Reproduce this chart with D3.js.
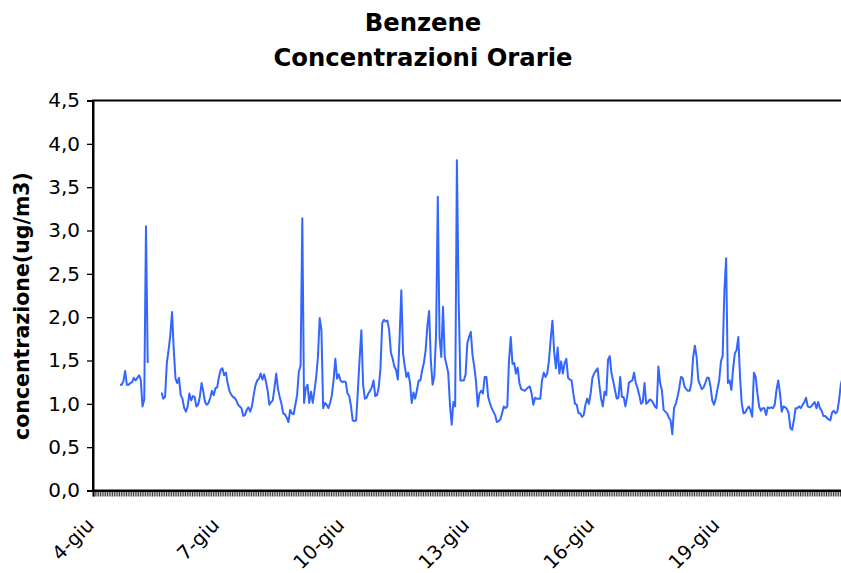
<!DOCTYPE html>
<html>
<head>
<meta charset="utf-8">
<script src="https://cdn.jsdelivr.net/npm/d3@7"></script>
<style>
  html, body { margin: 0; padding: 0; background: #fff; }
  svg { display: block; }
  text { font-family: "DejaVu Sans", Verdana, sans-serif; fill: #000; }
</style>
</head>
<body>
<svg id="chart" width="841" height="573"></svg>
<script>
// ---- Data: hourly benzene concentration (ug/m3), one array per day (00:00..23:00)
const giu04 = [null,null,null,null,null,null,null,null,null,null,null,null,null,null,null,1.22,1.22,1.26,1.38,1.22,1.22,1.24,1.25,1.30];
const giu05 = [1.27,1.30,1.33,1.28,0.97,1.05,3.05,1.47,null,null,null,null,null,null,null,1.13,1.06,1.08,1.47,1.62,1.79,2.06,1.62,1.29];
const giu06 = [1.24,1.30,1.10,1.06,0.95,0.91,0.97,1.12,1.04,1.09,1.08,0.97,0.99,1.08,1.24,1.14,1.02,0.99,1.01,1.07,1.15,1.10,1.18,1.19];
const giu07 = [1.31,1.39,1.41,1.33,1.36,1.24,1.15,1.11,1.08,1.07,1.04,0.99,0.97,0.95,0.86,0.87,0.93,0.96,0.91,0.97,1.10,1.21,1.27,1.29];
const giu08 = [1.35,1.28,1.34,1.26,1.16,0.99,1.02,1.04,1.19,1.35,1.17,1.08,1.00,0.89,0.88,0.84,0.79,0.93,0.89,0.88,0.99,1.10,1.37,1.44];
const giu09 = [3.14,1.01,1.18,1.22,1.01,1.14,1.01,1.15,1.31,1.54,1.99,1.85,0.95,1.01,0.99,0.95,1.01,1.10,1.27,1.52,1.29,1.34,1.27,1.25];
const giu10 = [1.26,1.25,1.12,1.09,0.98,0.81,0.80,0.81,1.16,1.52,1.85,1.22,1.06,1.07,1.12,1.15,1.19,1.27,1.09,1.10,1.19,1.41,1.93,1.97];
const giu11 = [1.95,1.96,1.85,1.59,1.52,1.43,1.39,1.28,1.76,2.31,1.58,1.43,1.31,1.36,1.24,1.01,1.13,1.06,1.16,1.27,1.27,1.39,1.47,1.62];
const giu12 = [1.90,2.07,1.50,1.22,1.32,1.80,3.39,1.77,1.54,2.12,1.54,1.45,1.36,0.99,0.76,1.02,0.97,3.81,2.20,1.27,1.27,1.27,1.34,1.70];
const giu13 = [1.77,1.83,1.56,1.43,1.26,0.97,1.12,1.15,1.12,1.31,1.31,1.08,1.01,0.95,0.91,0.87,0.79,0.80,0.82,0.89,0.97,0.95,0.97,1.50];
const giu14 = [1.77,1.46,1.47,1.35,1.42,1.24,1.17,1.16,1.15,1.17,1.19,1.20,1.12,0.99,1.07,1.06,1.06,1.06,1.27,1.36,1.31,1.35,1.50,1.75];
const giu15 = [1.96,1.60,1.41,1.65,1.35,1.49,1.35,1.47,1.52,1.30,1.28,1.27,1.12,1.00,0.99,0.89,0.89,0.85,0.87,0.99,1.06,1.00,1.12,1.30];
const giu16 = [1.35,1.38,1.41,1.22,1.06,0.97,1.14,1.10,1.51,1.55,1.35,1.26,1.16,1.06,1.07,1.31,1.08,1.08,0.97,1.08,1.24,1.26,1.27,1.36];
const giu17 = [1.24,1.18,1.10,1.00,1.02,1.24,1.00,1.02,1.05,1.04,1.01,0.97,0.95,1.43,1.24,1.16,0.93,0.91,0.89,0.84,0.81,0.65,0.95,1.00];
const giu18 = [1.08,1.18,1.31,1.30,1.20,1.17,1.15,1.15,1.24,1.54,1.67,1.54,1.27,1.22,1.17,1.19,1.24,1.30,1.30,1.20,1.04,0.99,1.06,1.17];
const giu19 = [1.27,1.49,1.55,2.31,2.68,1.24,1.27,1.16,1.40,1.58,1.62,1.77,1.31,1.00,0.89,0.90,0.94,0.97,0.93,0.85,1.36,1.31,1.12,0.97];
const giu20 = [0.92,0.95,0.95,0.87,0.96,0.95,0.96,0.95,0.99,1.16,1.27,1.12,0.91,0.97,0.96,0.94,0.89,0.72,0.70,0.81,0.95,0.95,0.97,0.95];
const giu21 = [0.99,1.02,1.07,0.97,0.96,0.97,1.00,1.02,0.95,1.02,0.95,0.92,0.86,0.86,0.84,0.82,0.81,0.90,0.92,0.89,0.91,1.04,1.22,1.30];

const days = [4,5,6,7,8,9,10,11,12,13,14,15,16,17,18,19,20,21];
const dayLabels = days.map(d => d + "-giu");
const shownLabels = ["4-giu","7-giu","10-giu","13-giu","16-giu","19-giu"];
const yTicks = [0,0.5,1,1.5,2,2.5,3,3.5,4,4.5];
const titleLines = ["Benzene","Concentrazioni Orarie"];
const yTitle = "concentrazione(ug/m3)";

const series = [giu04,giu05,giu06,giu07,giu08,giu09,giu10,giu11,giu12,giu13,giu14,giu15,giu16,giu17,giu18,giu19,giu20,giu21];
// categories: one per hour
const categories = [];
series.forEach((arr, di) => arr.forEach((v, h) => categories.push({label: dayLabels[di], hour: h, value: v})));

// ---- Layout
const svg = d3.select("#chart");
const plotLeft = 93, plotTop = 100.5, plotBottom = 490.5;
const step = 1.737;
const plotRight = plotLeft + categories.length * step;

const x = d3.scaleLinear().domain([0, categories.length]).range([plotLeft, plotRight]);
const y = d3.scaleLinear().domain([0, 4.5]).range([plotBottom, plotTop]);

// Title
svg.append("g").selectAll("text").data(titleLines).join("text")
  .attr("x", 423).attr("y", (d, i) => 31 + i * 35)
  .attr("text-anchor", "middle")
  .style("font-weight", "bold").style("font-size", "24.3px")
  .text(d => d);

// Y axis title
svg.append("text")
  .attr("transform", "translate(29,306) rotate(-90)")
  .attr("text-anchor", "middle")
  .style("font-weight", "bold").style("font-size", "20.5px")
  .text(yTitle);

// Plot frame
svg.append("rect")
  .attr("x", plotLeft).attr("y", plotTop)
  .attr("width", plotRight - plotLeft).attr("height", plotBottom - plotTop)
  .attr("fill", "none").attr("stroke", "#000").attr("stroke-width", 2);

// Y axis
const yAxis = d3.axisLeft(y).tickValues(yTicks).tickSize(6).tickPadding(7)
  .tickFormat(d => d3.format(".1f")(d).replace(".", ","));
const gy = svg.append("g").attr("transform", `translate(${plotLeft},0)`).call(yAxis);
gy.select(".domain").attr("stroke-width", 2);
gy.selectAll(".tick line").attr("stroke", "#000").attr("stroke-width", 1.3);
gy.selectAll(".tick text").style("font-size", "20px").style("font-family", '"DejaVu Sans", Verdana, sans-serif');

// X axis: a tick mark at every hour boundary, labels every 3 days
const xAxis = d3.axisBottom(x).tickValues(d3.range(0, categories.length + 1)).tickSize(6).tickPadding(0)
  .tickFormat(i => {
    const c = categories[i];
    return (c && c.hour === 0 && shownLabels.includes(c.label)) ? c.label : "";
  });
const gx = svg.append("g").attr("transform", `translate(0,${plotBottom})`).call(xAxis);
gx.select(".domain").attr("stroke-width", 2);
gx.selectAll(".tick line").attr("stroke", "#000").attr("stroke-width", 0.8);
gx.selectAll(".tick text")
  .style("font-size", "19.5px").style("font-family", '"DejaVu Sans", Verdana, sans-serif')
  .attr("text-anchor", "end")
  .attr("transform", "translate(-3,31) rotate(-45)")
  .attr("y", 0).attr("dy", "0.35em");

// Line
const line = d3.line()
  .defined(d => d.value !== null)
  .x((d, i) => x(i + 0.5))
  .y(d => y(d.value));
svg.append("path")
  .datum(categories)
  .attr("fill", "none")
  .attr("stroke", "#3366FF")
  .attr("stroke-width", 2)
  .attr("stroke-linejoin", "round")
  .attr("d", line);
</script>
</body>
</html>
